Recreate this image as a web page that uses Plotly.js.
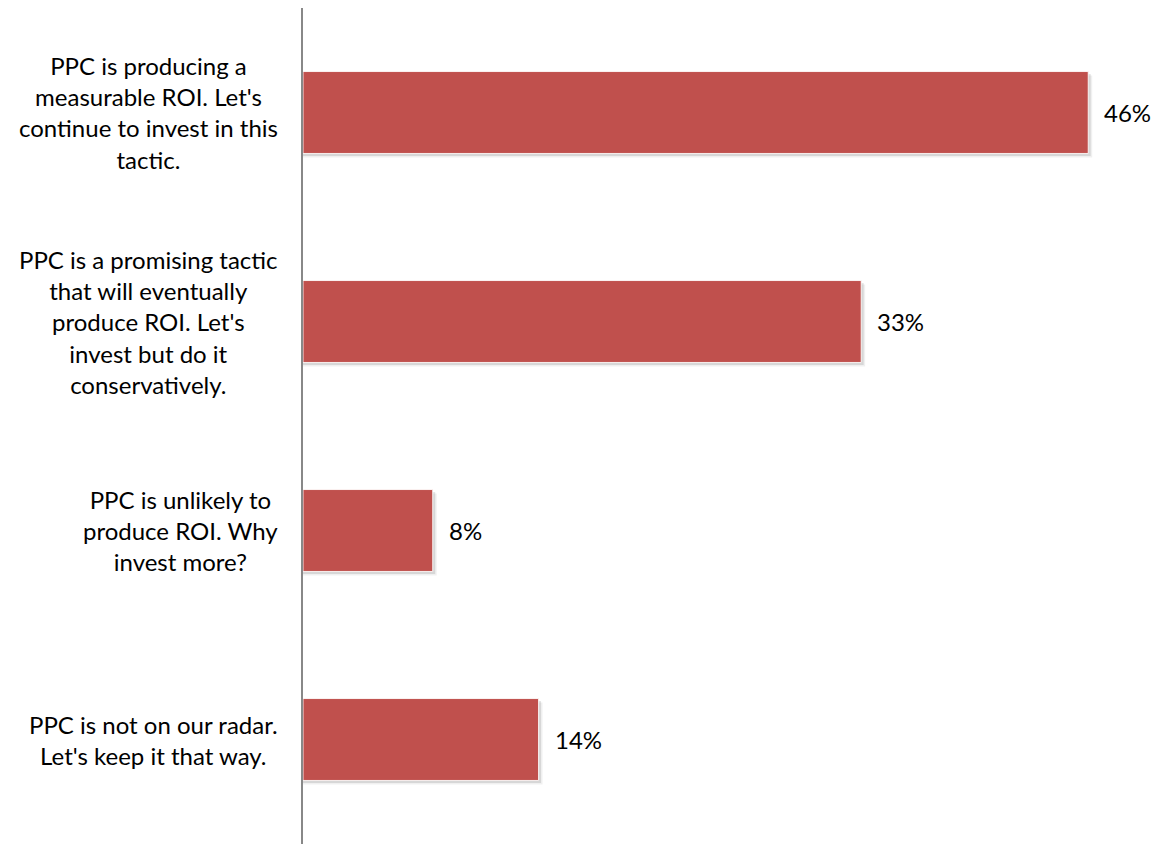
<!DOCTYPE html>
<html>
<head>
<meta charset="utf-8">
<script src="https://cdn.plot.ly/plotly-3.0.1.min.js"></script>
<style>
  html, body { margin: 0; padding: 0; background: #ffffff; }
  #chart { width: 1159px; height: 844px; }
</style>
</head>
<body>
<div id="chart"></div>
<script>
// ---- data ----
const categories = [
  "PPC is producing a<br>measurable ROI. Let's<br>continue to invest in this<br>tactic.",
  "PPC is a promising tactic<br>that will eventually<br>produce ROI. Let's<br>invest but do it<br>conservatively.",
  "PPC is unlikely to<br>produce ROI. Why<br>invest more?",
  "PPC is not on our radar.<br>Let's keep it that way."
];
const values = [46.0, 32.7, 7.6, 13.8];
const valueLabels = ["46%", "33%", "8%", "14%"];

// ---- styling ----
const BAR_COLOR = "#C0504D";
const FONT = "Lato, 'Open Sans', sans-serif";
const FS = 24;
const barWidth = 0.392;
const pxPerCat = 209;
const pxPerUnit = 17.07;

function shadow(dx, dy, alpha) {
  return {
    type: "bar",
    orientation: "h",
    y: categories,
    x: values.map(v => v + dx / pxPerUnit),
    width: barWidth,
    offset: -barWidth / 2 + dy / pxPerCat,
    marker: { color: "rgba(0,0,0," + alpha + ")", line: { width: 0 } },
    hoverinfo: "skip",
    showlegend: false
  };
}

const traces = [
  shadow(4, 4, 0.06),
  shadow(2.5, 2.5, 0.10),
  {
    type: "bar",
    orientation: "h",
    y: categories,
    x: values,
    width: barWidth,
    marker: { color: BAR_COLOR, line: { color: "rgba(255,255,255,0.85)", width: 1 } },
    showlegend: false
  }
];

const annotations = [];
categories.forEach((c, i) => {
  annotations.push({
    xref: "paper", yref: "y",
    x: 0, y: c,
    xanchor: "right", yanchor: "middle",
    xshift: -23,
    align: "center",
    text: c,
    showarrow: false,
    font: { family: FONT, size: FS, color: "#000000" }
  });
  annotations.push({
    xref: "x", yref: "y",
    x: values[i], y: c,
    xanchor: "left", yanchor: "middle",
    xshift: 14,
    text: valueLabels[i],
    showarrow: false,
    font: { family: FONT, size: FS, color: "#000000" }
  });
});

const plotW = 1159 - 303 - 6;
const layout = {
  width: 1159,
  height: 844,
  margin: { l: 303, r: 6, t: 8, b: 0, pad: 0 },
  paper_bgcolor: "#ffffff",
  plot_bgcolor: "#ffffff",
  barmode: "overlay",
  showlegend: false,
  font: { family: FONT, size: FS, color: "#000000" },
  xaxis: {
    range: [0, plotW / pxPerUnit],
    showgrid: false,
    zeroline: false,
    showline: false,
    showticklabels: false,
    ticks: ""
  },
  yaxis: {
    type: "category",
    categoryorder: "array",
    categoryarray: categories,
    range: [3.5, -0.5],
    showgrid: false,
    zeroline: false,
    showline: true,
    linecolor: "#888888",
    linewidth: 2,
    showticklabels: false,
    ticks: ""
  },
  annotations: annotations
};

Plotly.newPlot("chart", traces, layout, { displayModeBar: false, staticPlot: true });
</script>
</body>
</html>
